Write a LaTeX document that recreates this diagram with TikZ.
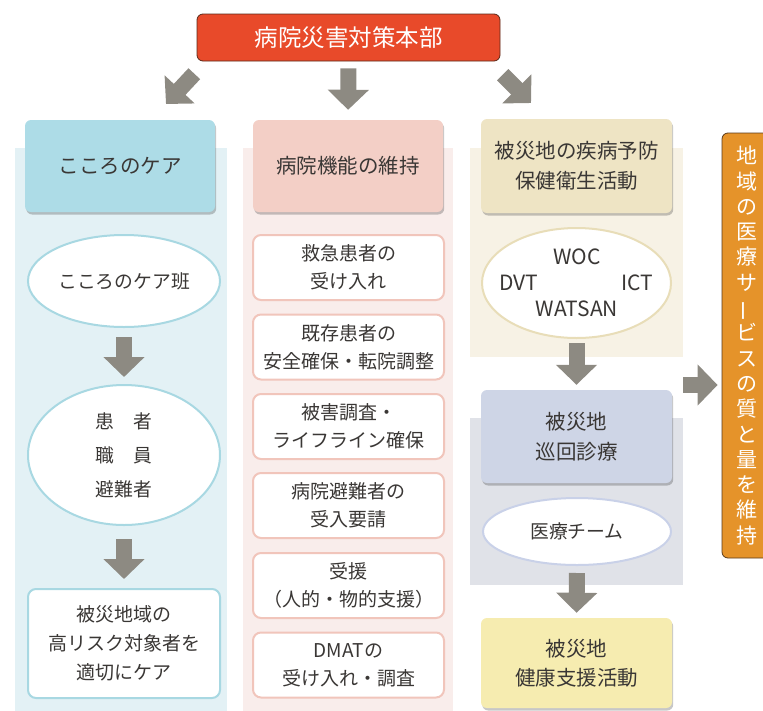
\documentclass[tikz,border=0pt]{standalone}
\usepackage{fontspec}
\usepackage{graphicx}
\setmainfont{Noto Sans CJK JP}
\usetikzlibrary{arrows.meta,shadows,shapes.geometric}
\definecolor{txt}{HTML}{3A3735}
\definecolor{arrowgray}{HTML}{8D8A82}
\definecolor{hqfill}{HTML}{E84A2A}
\definecolor{hqdraw}{HTML}{5A2A1A}
\definecolor{bgL}{HTML}{E3F1F5}
\definecolor{hdL}{HTML}{ADDCE7}
\definecolor{bdL}{HTML}{A8D8E2}
\definecolor{bgM}{HTML}{F9EDEB}
\definecolor{hdM}{HTML}{F3CFC6}
\definecolor{bdM}{HTML}{F1C5BB}
\definecolor{bgR}{HTML}{F7F2E5}
\definecolor{hdR}{HTML}{EEE4C4}
\definecolor{bdR}{HTML}{E8DDB8}
\definecolor{bgG}{HTML}{E0E2E8}
\definecolor{hdB}{HTML}{CED5E6}
\definecolor{bdB}{HTML}{C9D1E8}
\definecolor{hdY}{HTML}{F6ECB0}
\definecolor{orfill}{HTML}{E5932A}
\definecolor{ordraw}{HTML}{5A3A1A}
\begin{document}
\begin{tikzpicture}[x=1pt,y=-1pt,
  hq/.style={rectangle, rounded corners=6pt, fill=hqfill, draw=hqdraw, line width=0.8pt,
    minimum width=303pt, minimum height=47pt, text=white, font=\fontsize{23.5}{26}\selectfont},
  hdr/.style={rectangle, rounded corners=6pt, minimum width=190pt, minimum height=92pt,
    text=txt, align=center, font=\fontsize{20.5}{30}\selectfont,
    drop shadow={shadow xshift=1.2pt, shadow yshift=-2.5pt, opacity=0.22, fill=black}},
  ell/.style={ellipse, fill=white, line width=2pt, text=txt, align=center, inner sep=0pt,
    font=\fontsize{18.8}{34}\selectfont},
  mbox/.style={rectangle, rounded corners=8pt, fill=white, draw=bdM, line width=2pt,
    minimum width=191pt, minimum height=65pt, text=txt, align=center,
    font=\fontsize{19}{28}\selectfont},
  blk/.style={draw=arrowgray, line width=16pt, -{Triangle[length=20pt,width=40pt]}},
]
\useasboundingbox (0,0) rectangle (763,710);
% column backgrounds
\fill[bgL] (15,148) rectangle (227,712);
\fill[bgM] (243,148) rectangle (453,712);
\fill[bgR] (470,148) rectangle (683,357);
\fill[bgG] (470,418) rectangle (683,585);

% headquarters
\node[hq] (hq) at (348.5,37.5) {病院災害対策本部};

% headers
\node[hdr, fill=hdL] (h1) at (120,166) {こころのケア};
\node[hdr, fill=hdM] (h2) at (348,166) {病院機能の維持};
\node[hdr, fill=hdR, minimum width=191pt, minimum height=94pt] (h3) at (576.5,166) {被災地の疾病予防\\保健衛生活動};

% left column
\node[ell, draw=bdL, minimum width=192pt, minimum height=92pt] (e1) at (124,281) {こころのケア班};
\node[ell, draw=bdL, minimum width=192pt, minimum height=140pt] (e2) at (124,455) {患　者\\職　員\\避難者};
\node[mbox, draw=bdL, minimum width=192pt, minimum height=109pt, font=\fontsize{19}{29}\selectfont] (b1) at (124,643.5) {被災地域の\\高リスク対象者を\\適切にケア};

% middle column
\node[mbox] (m1) at (348.5,267.5) {救急患者の\\受け入れ};
\node[mbox] (m2) at (348.5,347) {既存患者の\\安全確保・転院調整};
\node[mbox] (m3) at (348.5,426.5) {被害調査・\\ライフライン確保};
\node[mbox] (m4) at (348.5,505.5) {病院避難者の\\受入要請};
\node[mbox] (m5) at (348.5,585.5) {受援\\（人的・物的支援）};
\node[mbox] (m6) at (348.5,665) {DMATの\\受け入れ・調査};

% right column
\node[ell, draw=bdR, minimum width=189pt, minimum height=110pt] (e3) at (576.5,283) {};
\node[text=txt, font=\fontsize{21}{24}\selectfont] (woc) at (577,257) {WOC};
\node[text=txt, font=\fontsize{21}{24}\selectfont] (dvt) at (519,283) {DVT};
\node[text=txt, font=\fontsize{21}{24}\selectfont] (ict) at (637,283) {ICT};
\node[text=txt, font=\fontsize{21}{24}\selectfont] (wat) at (577,309) {WATSAN};
\node[hdr, fill=hdB, minimum width=191pt, minimum height=93pt] (h4) at (576.5,436.5) {被災地\\巡回診療};
\node[ell, draw=bdB, minimum width=188pt, minimum height=67pt] (e4) at (577,531.5) {医療チーム};
\node[hdr, fill=hdY, minimum width=191pt, minimum height=90pt, font=\fontsize{20.5}{29}\selectfont] (h5) at (576.5,663) {被災地\\健康支援活動};

% orange side box
\node[rectangle, rounded corners=6pt, fill=orfill, draw=ordraw, line width=0.8pt,
  minimum width=50pt, minimum height=425pt, text=white, align=center, inner sep=0pt,
  font=\fontsize{21}{25.3}\selectfont] (or) at (747,345.5)
  {地\\域\\の\\医\\療\\サ\\\rotatebox[origin=c]{90}{ー}\\ビ\\ス\\の\\質\\と\\量\\を\\維\\持};

% arrows from headquarters
\coordinate (t1) at (194.3,73.7);
\coordinate (a1) at (166,104);
\coordinate (t3) at (502.7,74.7);
\coordinate (a3) at (531,103);
\draw[blk] (t1) -- (a1);
\draw[blk, shorten <=7pt, shorten >=10pt] (hq.south) -- (h2.north);
\draw[blk] (t3) -- (a3);

% arrows in columns
\draw[blk, shorten <=9pt, shorten >=7pt] (e1.south) -- (e2.north);
\draw[blk, shorten <=13pt, shorten >=9pt] (e2.south) -- (b1.north);
\draw[blk, shorten <=4pt, shorten >=5pt] (e3.south) -- (h4.north);
\draw[blk, shorten <=7pt, shorten >=5pt] (e4.south) -- (h5.north);

% arrow to the side box
\coordinate (ra) at (683,385);
\draw[blk, shorten >=4pt] (ra) -- (ra -| or.west);
\end{tikzpicture}
\end{document}
